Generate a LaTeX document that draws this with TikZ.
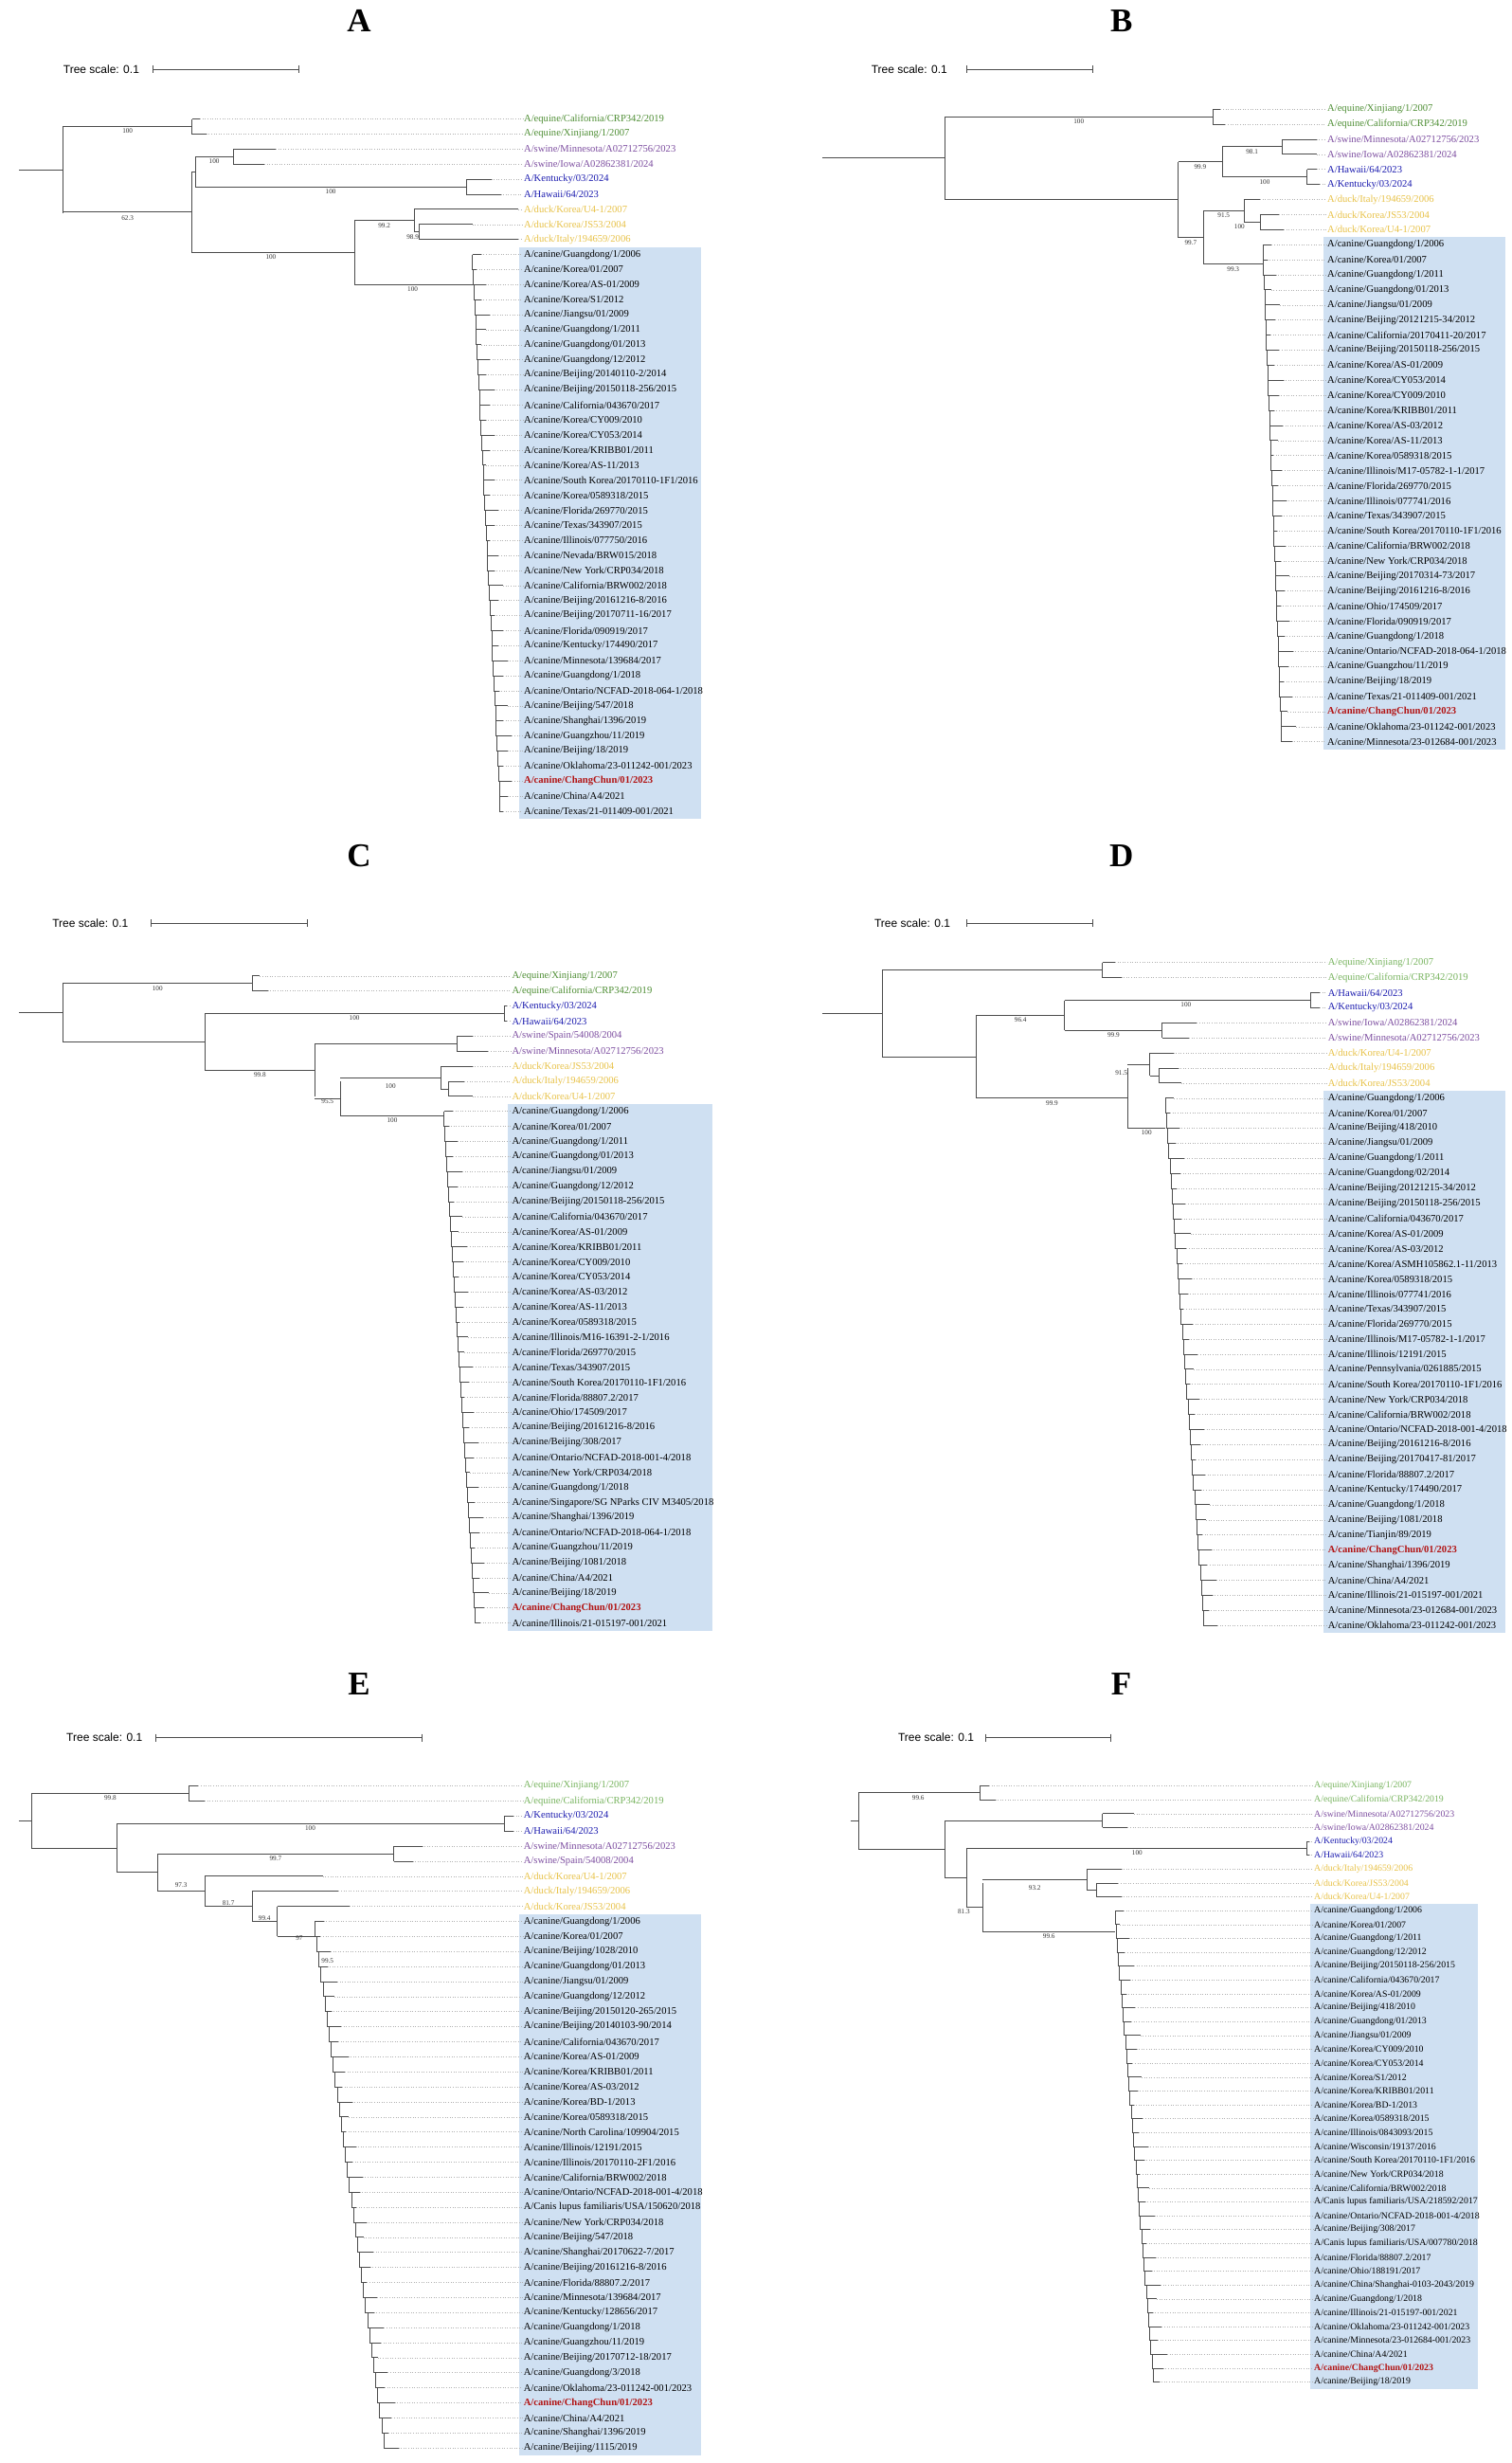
\documentclass[tikz,border=0pt]{standalone}
\usepackage{fontspec}
\setmainfont{Liberation Serif}
\setsansfont{Liberation Sans}
\definecolor{eqd}{RGB}{78,142,52}
\definecolor{eql}{RGB}{120,180,95}
\definecolor{swc}{RGB}{125,78,160}
\definecolor{huc}{RGB}{28,28,175}
\definecolor{duc}{RGB}{232,194,72}
\definecolor{rdc}{RGB}{178,20,20}
\definecolor{boxc}{RGB}{207,224,242}
\newcount\li
\gdef\labfs{5.3}
\newcommand{\setpanel}[5]{\gdef\lx{#1}\gdef\ly{#2}\gdef\ldy{#3}\gdef\lp{#4}\gdef\labfs{#5}\global\li=0\relax}
\newcommand{\lab}[2]{\pgfmathsetmacro\tmpy{\ly+\the\li*\ldy}\node[lab,#1] (\lp\the\li) at (\lx,\tmpy) {#2};\global\advance\li by 1\relax}
\newcommand{\tp}[3]{\pgfmathsetmacro\tmpy{\ly+(#1)*\ldy}\draw[br] (#2,\tmpy) -- (#3,\tmpy); \draw[ld] (#3,\tmpy) -- (\lp#1.west);}
\newcommand{\nd}[4]{\pgfmathsetmacro\ya{\ly+(#2)*\ldy}\pgfmathsetmacro\yb{\ly+(#3)*\ldy}\pgfmathsetmacro\ym{(\ya+\yb)/2}\draw[br] (#1,\ya) -- (#1,\yb); \draw[br] (#4,\ym) -- (#1,\ym);}
\newcommand{\att}[3]{\pgfmathsetmacro\ym{\ly+(#3)*\ldy}\draw[br] (#1,\ym) -- (#2,\ym);}
\newcommand{\bs}[3]{\pgfmathsetmacro\tmpy{\ly+(#2)*\ldy+3}\node[bsl] at (#1,\tmpy) {#3};}
% staircase ladder of tips: #1 start x, #2 first idx, #3 last idx, #4 total drift, #5 max tip length
\newcommand{\ladder}[5]{\foreach \i in {#2,...,#3} {%
  \pgfmathsetmacro\xa{#1+(\i-#2)/(#3-#2)*#4}%
  \pgfmathsetmacro\xb{#1+(\i+1-#2)/(#3-#2)*#4}%
  \pgfmathsetmacro\tx{\xa+1.5+mod(\i*37,23)/22*#5}%
  \tp{\i}{\xa}{\tx}%
  \ifnum\i<#3 \pgfmathsetmacro\ya{\ly+\i*\ldy}\pgfmathsetmacro\yb{\ly+(\i+1)*\ldy}\draw[br] (\xa,\ya) -- (\xa,\yb) -- (\xb,\yb);\fi}}
\newcommand{\cbox}[4]{\pgfmathsetmacro\ya{\ly+(#3-0.5)*\ldy}\pgfmathsetmacro\yb{\ly+(#4+0.5)*\ldy}\fill[boxc] (#1,\ya) rectangle (#2,\yb);}
\newcommand{\sbar}[5]{\node[scl] (#5) at (#1,#2) {Tree scale: 0.1}; \draw[br] (#3,#2) -- (#4,#2); \draw[br] (#3,#2-2.5) -- (#3,#2+2.5); \draw[br] (#4,#2-2.5) -- (#4,#2+2.5);}
\tikzset{
  lab/.style={font=\fontsize{\labfs}{\labfs}\selectfont, anchor=west, inner sep=0.4pt, text=black},
  eq/.style={text=eqd}, eqL/.style={text=eql}, sw/.style={text=swc}, hu/.style={text=huc},
  du/.style={text=duc}, cn/.style={text=black}, cr/.style={text=rdc, font=\fontsize{\labfs}{\labfs}\selectfont\bfseries},
  br/.style={line width=0.45pt, black!70},
  ld/.style={line width=0.3pt, black!30, densely dotted},
  bsl/.style={font=\fontsize{3.6}{4}\selectfont, inner sep=0pt, text=black!80},
  scl/.style={font=\sffamily\fontsize{6}{6}\selectfont, anchor=west, inner sep=0pt},
  ttl/.style={font=\fontsize{17.5}{18}\selectfont\bfseries, inner sep=0pt}
}
\begin{document}
\begin{tikzpicture}[x=0.83125pt,y=-0.83125pt]
\useasboundingbox (0,0) rectangle (960,1563.35);
\fill[white] (0,0) rectangle (960,1563.35);
% titles
\node[ttl] (tA) at (228,13) {A};
\node[ttl] (tB) at (712,13) {B};
\node[ttl] (tC) at (228,543) {C};
\node[ttl] (tD) at (712,543) {D};
\node[ttl] (tE) at (228,1069) {E};
\node[ttl] (tF) at (712,1069) {F};
% scale bars
\sbar{40}{44}{97}{190}{sA}
\sbar{553}{44}{614}{694}{sB}
\sbar{33}{586}{96}{195}{sC}
\sbar{555}{586}{614}{694}{sD}
\sbar{42}{1103}{99}{268}{sE}
\sbar{570}{1103}{626}{705}{sF}

%%%%%%%%%%%%%%%%%%%% PANEL A
\setpanel{332}{75.6}{9.55}{A}{5.3}
\cbox{329.6}{445.1}{9}{46}
\lab{eq}{A/equine/California/CRP342/2019}
\lab{eq}{A/equine/Xinjiang/1/2007}
\lab{sw}{A/swine/Minnesota/A02712756/2023}
\lab{sw}{A/swine/Iowa/A02862381/2024}
\lab{hu}{A/Kentucky/03/2024}
\lab{hu}{A/Hawaii/64/2023}
\lab{du}{A/duck/Korea/U4-1/2007}
\lab{du}{A/duck/Korea/JS53/2004}
\lab{du}{A/duck/Italy/194659/2006}
\lab{cn}{A/canine/Guangdong/1/2006}
\lab{cn}{A/canine/Korea/01/2007}
\lab{cn}{A/canine/Korea/AS-01/2009}
\lab{cn}{A/canine/Korea/S1/2012}
\lab{cn}{A/canine/Jiangsu/01/2009}
\lab{cn}{A/canine/Guangdong/1/2011}
\lab{cn}{A/canine/Guangdong/01/2013}
\lab{cn}{A/canine/Guangdong/12/2012}
\lab{cn}{A/canine/Beijing/20140110-2/2014}
\lab{cn}{A/canine/Beijing/20150118-256/2015}
\lab{cn}{A/canine/California/043670/2017}
\lab{cn}{A/canine/Korea/CY009/2010}
\lab{cn}{A/canine/Korea/CY053/2014}
\lab{cn}{A/canine/Korea/KRIBB01/2011}
\lab{cn}{A/canine/Korea/AS-11/2013}
\lab{cn}{A/canine/South Korea/20170110-1F1/2016}
\lab{cn}{A/canine/Korea/0589318/2015}
\lab{cn}{A/canine/Florida/269770/2015}
\lab{cn}{A/canine/Texas/343907/2015}
\lab{cn}{A/canine/Illinois/077750/2016}
\lab{cn}{A/canine/Nevada/BRW015/2018}
\lab{cn}{A/canine/New York/CRP034/2018}
\lab{cn}{A/canine/California/BRW002/2018}
\lab{cn}{A/canine/Beijing/20161216-8/2016}
\lab{cn}{A/canine/Beijing/20170711-16/2017}
\lab{cn}{A/canine/Florida/090919/2017}
\lab{cn}{A/canine/Kentucky/174490/2017}
\lab{cn}{A/canine/Minnesota/139684/2017}
\lab{cn}{A/canine/Guangdong/1/2018}
\lab{cn}{A/canine/Ontario/NCFAD-2018-064-1/2018}
\lab{cn}{A/canine/Beijing/547/2018}
\lab{cn}{A/canine/Shanghai/1396/2019}
\lab{cn}{A/canine/Guangzhou/11/2019}
\lab{cn}{A/canine/Beijing/18/2019}
\lab{cn}{A/canine/Oklahoma/23-011242-001/2023}
\lab{cr}{A/canine/ChangChun/01/2023}
\lab{cn}{A/canine/China/A4/2021}
\lab{cn}{A/canine/Texas/21-011409-001/2021}
% tree A
\nd{40}{0.5}{6.25}{12}
\nd{122}{0}{1}{40} \tp{0}{122}{127} \tp{1}{122}{131}
\nd{122}{3.5}{8.875}{40}
\nd{124}{2.5}{4.5}{122}
\nd{148}{2}{3}{124} \tp{2}{148}{175} \tp{3}{148}{168}
\nd{296}{4}{5}{124} \tp{4}{296}{312} \tp{5}{296}{318}
\nd{225}{6.75}{11}{122}
\nd{263}{6}{7.5}{225} \tp{6}{263}{329}
\nd{266}{7}{8}{263} \tp{7}{266}{300} \tp{8}{266}{329}
\att{225}{300}{11}
\ladder{300}{9}{46}{18}{8}
\bs{81}{0.5}{100} \bs{81}{6.25}{62.3} \bs{136}{2.5}{100} \bs{210}{4.5}{100}
\bs{172}{8.875}{100} \bs{244}{6.75}{99.2} \bs{262}{7.5}{98.9} \bs{262}{11}{100}

%%%%%%%%%%%%%%%%%%%% PANEL B
\setpanel{842.1}{69.3}{9.56}{B}{5.3}
\cbox{840.3}{955.8}{9}{42}
\lab{eq}{A/equine/Xinjiang/1/2007}
\lab{eq}{A/equine/California/CRP342/2019}
\lab{sw}{A/swine/Minnesota/A02712756/2023}
\lab{sw}{A/swine/Iowa/A02862381/2024}
\lab{hu}{A/Hawaii/64/2023}
\lab{hu}{A/Kentucky/03/2024}
\lab{du}{A/duck/Italy/194659/2006}
\lab{du}{A/duck/Korea/JS53/2004}
\lab{du}{A/duck/Korea/U4-1/2007}
\lab{cn}{A/canine/Guangdong/1/2006}
\lab{cn}{A/canine/Korea/01/2007}
\lab{cn}{A/canine/Guangdong/1/2011}
\lab{cn}{A/canine/Guangdong/01/2013}
\lab{cn}{A/canine/Jiangsu/01/2009}
\lab{cn}{A/canine/Beijing/20121215-34/2012}
\lab{cn}{A/canine/California/20170411-20/2017}
\lab{cn}{A/canine/Beijing/20150118-256/2015}
\lab{cn}{A/canine/Korea/AS-01/2009}
\lab{cn}{A/canine/Korea/CY053/2014}
\lab{cn}{A/canine/Korea/CY009/2010}
\lab{cn}{A/canine/Korea/KRIBB01/2011}
\lab{cn}{A/canine/Korea/AS-03/2012}
\lab{cn}{A/canine/Korea/AS-11/2013}
\lab{cn}{A/canine/Korea/0589318/2015}
\lab{cn}{A/canine/Illinois/M17-05782-1-1/2017}
\lab{cn}{A/canine/Florida/269770/2015}
\lab{cn}{A/canine/Illinois/077741/2016}
\lab{cn}{A/canine/Texas/343907/2015}
\lab{cn}{A/canine/South Korea/20170110-1F1/2016}
\lab{cn}{A/canine/California/BRW002/2018}
\lab{cn}{A/canine/New York/CRP034/2018}
\lab{cn}{A/canine/Beijing/20170314-73/2017}
\lab{cn}{A/canine/Beijing/20161216-8/2016}
\lab{cn}{A/canine/Ohio/174509/2017}
\lab{cn}{A/canine/Florida/090919/2017}
\lab{cn}{A/canine/Guangdong/1/2018}
\lab{cn}{A/canine/Ontario/NCFAD-2018-064-1/2018}
\lab{cn}{A/canine/Guangzhou/11/2019}
\lab{cn}{A/canine/Beijing/18/2019}
\lab{cn}{A/canine/Texas/21-011409-001/2021}
\lab{cr}{A/canine/ChangChun/01/2023}
\lab{cn}{A/canine/Oklahoma/23-011242-001/2023}
\lab{cn}{A/canine/Minnesota/23-012684-001/2023}
\nd{600}{0.5}{6.01}{522}
\nd{770}{0}{1}{600} \tp{0}{770}{775} \tp{1}{770}{778}
\nd{748}{3.5}{8.525}{600}
\nd{776}{2.5}{4.5}{748}
\nd{814}{2}{3}{776} \tp{2}{814}{836} \tp{3}{814}{836}
\nd{830}{4}{5}{776} \tp{4}{830}{836} \tp{5}{830}{838}
\nd{764}{6.75}{10.3}{748}
\nd{790}{6}{7.5}{764} \tp{6}{790}{800}
\nd{800}{7}{8}{790} \tp{7}{800}{812} \tp{8}{800}{815}
\att{764}{802}{10.3}
\ladder{802}{9}{42}{12}{8}
\bs{685}{0.5}{100} \bs{795}{2.5}{98.1} \bs{762}{3.5}{99.9} \bs{803}{4.5}{100}
\bs{777}{6.75}{91.5} \bs{787}{7.5}{100} \bs{756}{8.525}{99.7} \bs{783}{10.3}{99.3}

%%%%%%%%%%%%%%%%%%%% PANEL C
\setpanel{324.4}{619.5}{9.55}{C}{5.3}
\cbox{322.4}{452.3}{9}{43}
\lab{eq}{A/equine/Xinjiang/1/2007}
\lab{eq}{A/equine/California/CRP342/2019}
\lab{hu}{A/Kentucky/03/2024}
\lab{hu}{A/Hawaii/64/2023}
\lab{sw}{A/swine/Spain/54008/2004}
\lab{sw}{A/swine/Minnesota/A02712756/2023}
\lab{du}{A/duck/Korea/JS53/2004}
\lab{du}{A/duck/Italy/194659/2006}
\lab{du}{A/duck/Korea/U4-1/2007}
\lab{cn}{A/canine/Guangdong/1/2006}
\lab{cn}{A/canine/Korea/01/2007}
\lab{cn}{A/canine/Guangdong/1/2011}
\lab{cn}{A/canine/Guangdong/01/2013}
\lab{cn}{A/canine/Jiangsu/01/2009}
\lab{cn}{A/canine/Guangdong/12/2012}
\lab{cn}{A/canine/Beijing/20150118-256/2015}
\lab{cn}{A/canine/California/043670/2017}
\lab{cn}{A/canine/Korea/AS-01/2009}
\lab{cn}{A/canine/Korea/KRIBB01/2011}
\lab{cn}{A/canine/Korea/CY009/2010}
\lab{cn}{A/canine/Korea/CY053/2014}
\lab{cn}{A/canine/Korea/AS-03/2012}
\lab{cn}{A/canine/Korea/AS-11/2013}
\lab{cn}{A/canine/Korea/0589318/2015}
\lab{cn}{A/canine/Illinois/M16-16391-2-1/2016}
\lab{cn}{A/canine/Florida/269770/2015}
\lab{cn}{A/canine/Texas/343907/2015}
\lab{cn}{A/canine/South Korea/20170110-1F1/2016}
\lab{cn}{A/canine/Florida/88807.2/2017}
\lab{cn}{A/canine/Ohio/174509/2017}
\lab{cn}{A/canine/Beijing/20161216-8/2016}
\lab{cn}{A/canine/Beijing/308/2017}
\lab{cn}{A/canine/Ontario/NCFAD-2018-001-4/2018}
\lab{cn}{A/canine/New York/CRP034/2018}
\lab{cn}{A/canine/Guangdong/1/2018}
\lab{cn}{A/canine/Singapore/SG NParks CIV M3405/2018}
\lab{cn}{A/canine/Shanghai/1396/2019}
\lab{cn}{A/canine/Ontario/NCFAD-2018-064-1/2018}
\lab{cn}{A/canine/Guangzhou/11/2019}
\lab{cn}{A/canine/Beijing/1081/2018}
\lab{cn}{A/canine/China/A4/2021}
\lab{cn}{A/canine/Beijing/18/2019}
\lab{cr}{A/canine/ChangChun/01/2023}
\lab{cn}{A/canine/Illinois/21-015197-001/2021}
\nd{40}{0.5}{4.4}{12}
\nd{160}{0}{1}{40} \tp{0}{160}{165} \tp{1}{160}{170}
\nd{130}{2.5}{6.25}{40}
\nd{320}{2}{3}{130} \tp{2}{320}{322} \tp{3}{320}{322}
\nd{200}{4.5}{8}{130}
\nd{290}{4}{5}{200} \tp{4}{290}{300} \tp{5}{290}{310}
\nd{216}{7}{9.3}{200}
\nd{280}{6}{7.5}{216} \tp{6}{280}{300}
\nd{285}{7}{8}{280} \tp{7}{285}{295} \tp{8}{285}{300}
\att{216}{282}{9.3}
\ladder{282}{9}{43}{20}{8}
\bs{100}{0.5}{100} \bs{225}{2.5}{100} \bs{165}{6.25}{99.8} \bs{208}{8}{95.5}
\bs{248}{7}{100} \bs{249}{9.3}{100}

%%%%%%%%%%%%%%%%%%%% PANEL D
\setpanel{842.5}{611}{9.56}{D}{5.3}
\cbox{840.1}{955.8}{9}{44}
\lab{eqL}{A/equine/Xinjiang/1/2007}
\lab{eqL}{A/equine/California/CRP342/2019}
\lab{hu}{A/Hawaii/64/2023}
\lab{hu}{A/Kentucky/03/2024}
\lab{sw}{A/swine/Iowa/A02862381/2024}
\lab{sw}{A/swine/Minnesota/A02712756/2023}
\lab{du}{A/duck/Korea/U4-1/2007}
\lab{du}{A/duck/Italy/194659/2006}
\lab{du}{A/duck/Korea/JS53/2004}
\lab{cn}{A/canine/Guangdong/1/2006}
\lab{cn}{A/canine/Korea/01/2007}
\lab{cn}{A/canine/Beijing/418/2010}
\lab{cn}{A/canine/Jiangsu/01/2009}
\lab{cn}{A/canine/Guangdong/1/2011}
\lab{cn}{A/canine/Guangdong/02/2014}
\lab{cn}{A/canine/Beijing/20121215-34/2012}
\lab{cn}{A/canine/Beijing/20150118-256/2015}
\lab{cn}{A/canine/California/043670/2017}
\lab{cn}{A/canine/Korea/AS-01/2009}
\lab{cn}{A/canine/Korea/AS-03/2012}
\lab{cn}{A/canine/Korea/ASMH105862.1-11/2013}
\lab{cn}{A/canine/Korea/0589318/2015}
\lab{cn}{A/canine/Illinois/077741/2016}
\lab{cn}{A/canine/Texas/343907/2015}
\lab{cn}{A/canine/Florida/269770/2015}
\lab{cn}{A/canine/Illinois/M17-05782-1-1/2017}
\lab{cn}{A/canine/Illinois/12191/2015}
\lab{cn}{A/canine/Pennsylvania/0261885/2015}
\lab{cn}{A/canine/South Korea/20170110-1F1/2016}
\lab{cn}{A/canine/New York/CRP034/2018}
\lab{cn}{A/canine/California/BRW002/2018}
\lab{cn}{A/canine/Ontario/NCFAD-2018-001-4/2018}
\lab{cn}{A/canine/Beijing/20161216-8/2016}
\lab{cn}{A/canine/Beijing/20170417-81/2017}
\lab{cn}{A/canine/Florida/88807.2/2017}
\lab{cn}{A/canine/Kentucky/174490/2017}
\lab{cn}{A/canine/Guangdong/1/2018}
\lab{cn}{A/canine/Beijing/1081/2018}
\lab{cn}{A/canine/Tianjin/89/2019}
\lab{cr}{A/canine/ChangChun/01/2023}
\lab{cn}{A/canine/Shanghai/1396/2019}
\lab{cn}{A/canine/China/A4/2021}
\lab{cn}{A/canine/Illinois/21-015197-001/2021}
\lab{cn}{A/canine/Minnesota/23-012684-001/2023}
\lab{cn}{A/canine/Oklahoma/23-011242-001/2023}
\nd{560}{0.5}{6.25}{522}
\nd{700}{0}{1}{560} \tp{0}{700}{708} \tp{1}{700}{712}
\nd{620}{3.5}{9}{560}
\nd{676}{2.5}{4.5}{620}
\nd{832}{2}{3}{676} \tp{2}{832}{838} \tp{3}{832}{838}
\nd{738}{4}{5}{676} \tp{4}{738}{760} \tp{5}{738}{755}
\nd{716}{7}{11}{620}
\nd{730}{6}{7.5}{716} \tp{6}{730}{745}
\nd{736}{7}{8}{730} \tp{7}{736}{748} \tp{8}{736}{750}
\att{716}{740}{11}
\ladder{740}{9}{44}{25}{8}
\bs{753}{2.5}{100} \bs{648}{3.5}{96.4} \bs{707}{4.5}{99.9} \bs{712}{7}{91.5}
\bs{668}{9}{99.9} \bs{728}{11}{100}

%%%%%%%%%%%%%%%%%%%% PANEL E
\setpanel{331.8}{1133.6}{9.55}{E}{5.3}
\cbox{329.6}{445.1}{9}{44}
\lab{eqL}{A/equine/Xinjiang/1/2007}
\lab{eqL}{A/equine/California/CRP342/2019}
\lab{hu}{A/Kentucky/03/2024}
\lab{hu}{A/Hawaii/64/2023}
\lab{sw}{A/swine/Minnesota/A02712756/2023}
\lab{sw}{A/swine/Spain/54008/2004}
\lab{du}{A/duck/Korea/U4-1/2007}
\lab{du}{A/duck/Italy/194659/2006}
\lab{du}{A/duck/Korea/JS53/2004}
\lab{cn}{A/canine/Guangdong/1/2006}
\lab{cn}{A/canine/Korea/01/2007}
\lab{cn}{A/canine/Beijing/1028/2010}
\lab{cn}{A/canine/Guangdong/01/2013}
\lab{cn}{A/canine/Jiangsu/01/2009}
\lab{cn}{A/canine/Guangdong/12/2012}
\lab{cn}{A/canine/Beijing/20150120-265/2015}
\lab{cn}{A/canine/Beijing/20140103-90/2014}
\lab{cn}{A/canine/California/043670/2017}
\lab{cn}{A/canine/Korea/AS-01/2009}
\lab{cn}{A/canine/Korea/KRIBB01/2011}
\lab{cn}{A/canine/Korea/AS-03/2012}
\lab{cn}{A/canine/Korea/BD-1/2013}
\lab{cn}{A/canine/Korea/0589318/2015}
\lab{cn}{A/canine/North Carolina/109904/2015}
\lab{cn}{A/canine/Illinois/12191/2015}
\lab{cn}{A/canine/Illinois/20170110-2F1/2016}
\lab{cn}{A/canine/California/BRW002/2018}
\lab{cn}{A/canine/Ontario/NCFAD-2018-001-4/2018}
\lab{cn}{A/Canis lupus familiaris/USA/150620/2018}
\lab{cn}{A/canine/New York/CRP034/2018}
\lab{cn}{A/canine/Beijing/547/2018}
\lab{cn}{A/canine/Shanghai/20170622-7/2017}
\lab{cn}{A/canine/Beijing/20161216-8/2016}
\lab{cn}{A/canine/Florida/88807.2/2017}
\lab{cn}{A/canine/Minnesota/139684/2017}
\lab{cn}{A/canine/Kentucky/128656/2017}
\lab{cn}{A/canine/Guangdong/1/2018}
\lab{cn}{A/canine/Guangzhou/11/2019}
\lab{cn}{A/canine/Beijing/20170712-18/2017}
\lab{cn}{A/canine/Guangdong/3/2018}
\lab{cn}{A/canine/Oklahoma/23-011242-001/2023}
\lab{cr}{A/canine/ChangChun/01/2023}
\lab{cn}{A/canine/China/A4/2021}
\lab{cn}{A/canine/Shanghai/1396/2019}
\lab{cn}{A/canine/Beijing/1115/2019}
% tree E: caterpillar
\nd{20}{0.5}{4.125}{12}
\nd{120}{0}{1}{20} \tp{0}{120}{126} \tp{1}{120}{130}
\nd{74}{2.5}{5.75}{20}
\nd{320}{2}{3}{74} \tp{2}{320}{326} \tp{3}{320}{326}
\nd{100}{4.5}{7}{74}
\nd{250}{4}{5}{100} \tp{4}{250}{268} \tp{5}{250}{262}
\nd{130}{6}{8}{100} \tp{6}{130}{205}
\nd{160}{7}{9}{130} \tp{7}{160}{215}
\nd{176}{8}{10}{160} \tp{8}{176}{222}
\att{176}{200}{10}
\ladder{200}{9}{44}{45}{8}
\bs{70}{0.5}{99.8} \bs{197}{2.5}{100} \bs{175}{4.5}{99.7} \bs{115}{6.3}{97.3}
\bs{145}{7.5}{81.7} \bs{168}{8.5}{99.4} \bs{190}{9.8}{97} \bs{208}{11.3}{99.5}

%%%%%%%%%%%%%%%%%%%% PANEL F
\setpanel{833.7}{1133.6}{8.80}{F}{4.9}
\cbox{832.1}{938.3}{9}{43}
\lab{eqL}{A/equine/Xinjiang/1/2007}
\lab{eqL}{A/equine/California/CRP342/2019}
\lab{sw}{A/swine/Minnesota/A02712756/2023}
\lab{sw}{A/swine/Iowa/A02862381/2024}
\lab{hu}{A/Kentucky/03/2024}
\lab{hu}{A/Hawaii/64/2023}
\lab{du}{A/duck/Italy/194659/2006}
\lab{du}{A/duck/Korea/JS53/2004}
\lab{du}{A/duck/Korea/U4-1/2007}
\lab{cn}{A/canine/Guangdong/1/2006}
\lab{cn}{A/canine/Korea/01/2007}
\lab{cn}{A/canine/Guangdong/1/2011}
\lab{cn}{A/canine/Guangdong/12/2012}
\lab{cn}{A/canine/Beijing/20150118-256/2015}
\lab{cn}{A/canine/California/043670/2017}
\lab{cn}{A/canine/Korea/AS-01/2009}
\lab{cn}{A/canine/Beijing/418/2010}
\lab{cn}{A/canine/Guangdong/01/2013}
\lab{cn}{A/canine/Jiangsu/01/2009}
\lab{cn}{A/canine/Korea/CY009/2010}
\lab{cn}{A/canine/Korea/CY053/2014}
\lab{cn}{A/canine/Korea/S1/2012}
\lab{cn}{A/canine/Korea/KRIBB01/2011}
\lab{cn}{A/canine/Korea/BD-1/2013}
\lab{cn}{A/canine/Korea/0589318/2015}
\lab{cn}{A/canine/Illinois/0843093/2015}
\lab{cn}{A/canine/Wisconsin/19137/2016}
\lab{cn}{A/canine/South Korea/20170110-1F1/2016}
\lab{cn}{A/canine/New York/CRP034/2018}
\lab{cn}{A/canine/California/BRW002/2018}
\lab{cn}{A/Canis lupus familiaris/USA/218592/2017}
\lab{cn}{A/canine/Ontario/NCFAD-2018-001-4/2018}
\lab{cn}{A/canine/Beijing/308/2017}
\lab{cn}{A/Canis lupus familiaris/USA/007780/2018}
\lab{cn}{A/canine/Florida/88807.2/2017}
\lab{cn}{A/canine/Ohio/188191/2017}
\lab{cn}{A/canine/China/Shanghai-0103-2043/2019}
\lab{cn}{A/canine/Guangdong/1/2018}
\lab{cn}{A/canine/Illinois/21-015197-001/2021}
\lab{cn}{A/canine/Oklahoma/23-011242-001/2023}
\lab{cn}{A/canine/Minnesota/23-012684-001/2023}
\lab{cn}{A/canine/China/A4/2021}
\lab{cr}{A/canine/ChangChun/01/2023}
\lab{cn}{A/canine/Beijing/18/2019}
\nd{545}{0.5}{4.55}{540}
\nd{622}{0}{1}{545} \tp{0}{622}{628} \tp{1}{622}{632}
\nd{600}{2.5}{6.6}{545}
\nd{700}{2}{3}{600} \tp{2}{700}{720} \tp{3}{700}{716}
\nd{614}{4.5}{8.75}{600}
\nd{830}{4}{5}{614} \tp{4}{830}{831} \tp{5}{830}{831}
\nd{624}{7}{10.5}{614}
\nd{690}{6}{7.5}{624} \tp{6}{690}{712}
\nd{696}{7}{8}{690} \tp{7}{696}{710} \tp{8}{696}{712}
\att{624}{708}{10.5}
\ladder{708}{9}{43}{25}{8}
\bs{583}{0.5}{99.6} \bs{722}{4.5}{100} \bs{657}{7}{93.2} \bs{612}{8.75}{81.3} \bs{666}{10.5}{99.6}
\end{tikzpicture}
\end{document}
